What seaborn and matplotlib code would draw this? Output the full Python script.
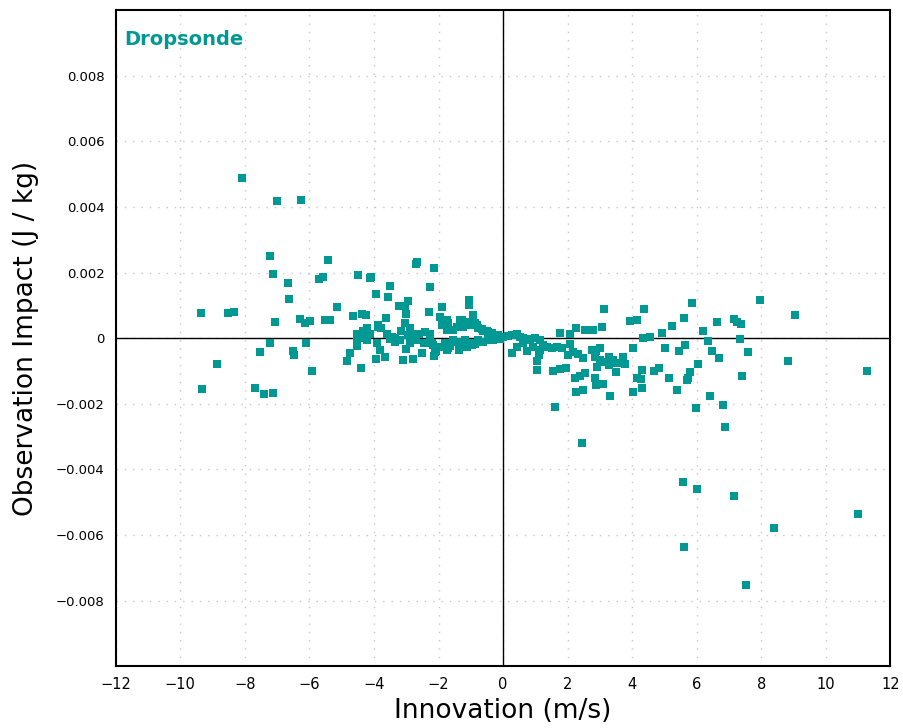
import matplotlib
matplotlib.use("Agg")
import matplotlib.pyplot as plt
from matplotlib.ticker import FuncFormatter
import seaborn as sns
import pandas as pd

# innovation (m/s) and observation impact (in 1e-3 J/kg)
innovation = [
    -8.10, -6.99, -6.26, -7.23, -7.13, -5.41, -6.66, -6.62, -5.71, -5.57,
    -4.48, -4.11, -4.08, -3.93, -3.50, -3.58, -2.70, -2.66, -2.15, -2.25,
    -3.23, -3.05, -2.94, -3.02, -2.29, -1.88, -1.95, -1.07, -1.07, -0.93,
    -9.36, -8.52, -8.35, -7.08, -6.28, -6.13, -5.98, -5.52, -5.35, -5.16,
    -4.66, -4.36, -4.25, -3.63, -3.87, -3.79,
    -7.22, -7.53, -8.85, -9.32, -7.69, -7.40, -7.13, -6.52, -6.48, -6.11,
    -5.91, -4.82, -4.74, -4.51, -4.40, -3.95, -3.65, -3.10, -2.79, -2.52,
    -3.02, -2.13, -2.09,
    -4.21, -4.54, -4.33, -4.12, -3.87, -3.61, -3.45, -3.35, -3.17, -3.04,
    -2.88, -2.78, -2.94, -2.59, -2.42, -2.26, -1.85, -1.70, -1.75, -1.54,
    -1.38, -1.28, -1.18, -1.02, -0.92, -0.82, -0.66, -0.51, -0.35, -0.20,
    -1.75, -1.90, -1.33, -1.44, -1.23, -0.87, -0.77, -0.61, -0.46, -0.15,
    -4.54, -4.37, -4.23, -3.92, -3.81, -3.50, -3.35, -3.19, -2.88, -2.70,
    -2.45, -2.26, -2.16, -2.08, -1.95, -1.80, -1.64, -1.75, -1.54, -1.44,
    -1.28, -1.18, -1.13, -1.02, -0.87, -0.77, -0.61, -0.46, -0.30, -0.15,
    -2.21, -2.11, -1.70, -1.13, -0.97, -1.38,
    -0.40, -0.30, -0.20, -0.09, 0.01, 0.16, 0.27, 0.42, 0.53, 0.63,
    0.73, 0.84, 0.99, 1.15, 0.27, 0.42, 0.63, 0.73, 0.94, 1.05,
    1.10, 1.15, 1.25, 1.36, 1.05, 1.56, 1.77, 1.95, 1.61, 1.51,
    1.66, 1.82, 1.77, 2.08, 2.26, 2.02, 2.18, 2.33, 2.47, 2.08,
    2.23, 2.39, 2.54, 2.26, 2.47, 2.54, 2.78, 3.06, 3.14, 2.75,
    2.88, 3.01, 2.85, 3.01, 2.92, 3.11, 3.27, 3.42, 3.27, 3.53,
    3.50, 3.73, 3.78, 4.02, 2.85, 2.88, 3.11, 3.32, 4.04, 3.92,
    4.15, 4.37, 4.15, 4.27, 4.30, 4.35, 4.56, 4.66, 4.82, 4.92,
    5.02, 5.13, 5.23, 5.62, 5.85, 6.19, 6.35, 6.47, 6.70, 6.64,
    7.14, 7.25, 7.37, 7.33, 7.58, 7.97, 9.03, 8.82, 11.28, 7.39,
    5.44, 5.64, 6.03, 5.78, 5.73, 5.39, 6.40, 5.97, 6.82, 6.89,
    2.46, 5.56, 6.01, 7.16, 11.01, 8.40, 5.59, 7.53, 4.30, 5.70,
]
impact = [
    4.89, 4.18, 4.21, 2.51, 1.95, 2.39, 1.68, 1.18, 1.81, 1.87,
    1.92, 1.82, 1.86, 1.36, 1.58, 1.25, 2.26, 2.32, 2.15, 1.55,
    0.98, 0.99, 1.14, 0.74, 0.81, 0.96, 0.65, 1.17, 1.00, 0.71,
    0.76, 0.77, 0.79, 0.50, 0.58, 0.47, 0.53, 0.55, 0.55, 0.95,
    0.68, 0.75, 0.71, 0.60, 0.34, 0.30,
    -0.16, -0.43, -0.79, -1.56, -1.51, -1.69, -1.67, -0.40, -0.52, -0.16,
    -1.01, -0.70, -0.45, -0.24, -0.92, -0.63, -0.57, -0.68, -0.65, -0.46,
    -0.33, -0.54, -0.40,
    0.30, 0.14, 0.22, 0.12, 0.40, 0.14, 0.04, -0.01, 0.22, 0.45,
    0.30, 0.14, 0.09, 0.14, 0.19, 0.14, 0.55, 0.45, 0.24, 0.24,
    0.34, 0.55, 0.50, 0.40, 0.55, 0.40, 0.27, 0.22, 0.16, 0.09,
    0.55, 0.40, 0.55, 0.34, 0.34, 0.45, 0.30, 0.21, 0.19, 0.09,
    -0.06, -0.01, -0.06, -0.16, -0.37, -0.04, -0.11, -0.06, -0.16, -0.06,
    -0.16, -0.06, -0.21, -0.37, -0.27, -0.16, -0.24, -0.37, -0.06, -0.11,
    -0.21, -0.06, -0.21, -0.16, -0.18, -0.06, -0.11, -0.06, -0.06, -0.04,
    -0.16, -0.42, -0.31, -0.27, -0.21, -0.37,
    0.14, 0.04, 0.09, -0.04, 0.04, 0.06, 0.09, 0.14, 0.04, -0.01,
    -0.06, -0.04, 0.01, -0.06, -0.44, -0.27, -0.16, -0.39, -0.27, -0.69,
    -0.52, -0.37, -0.21, -0.27, -0.98, -1.00, -0.95, -0.91, -2.11, -0.31,
    -0.27, -0.31, 0.16, 0.14, 0.31, -0.52, -0.42, -0.47, -0.59, -0.19,
    -1.20, -1.16, -1.06, -1.63, -1.59, 0.24, 0.24, 0.34, 0.88, -0.37,
    -0.39, -0.31, -0.57, -0.67, -0.87, -0.72, -0.57, -0.67, -0.82, -0.77,
    -1.03, -0.57, -0.79, -0.31, -1.23, -1.43, -1.40, -1.77, -1.64, 0.52,
    0.55, 0.88, -1.23, -1.26, -1.52, -0.01, 0.04, -1.00, -0.90, 0.16,
    -0.30, -1.20, 0.38, 0.60, 1.07, 0.21, -0.09, -0.40, -0.60, 0.48,
    0.58, 0.50, 0.43, -0.02, -0.43, 1.17, 0.72, -0.70, -1.00, -1.15,
    -0.40, -0.21, -0.79, -1.03, -1.20, -1.57, -1.75, -2.13, -2.03, -2.70,
    -3.21, -4.40, -4.60, -4.81, -5.37, -5.78, -6.36, -7.52, -0.96, -1.28,
]

x_ticks = list(range(-12, 13, 2))
y_ticks = [-0.008, -0.006, -0.004, -0.002, 0, 0.002, 0.004, 0.006, 0.008]
teal = "#009893"

df = pd.DataFrame({"innovation": innovation,
                   "impact": [v * 1e-3 for v in impact]})

sns.set_style("white")
plt.rcParams["font.family"] = ["DejaVu Sans"]
plt.rcParams["text.color"] = "black"
plt.rcParams["axes.labelcolor"] = "black"

fig = plt.figure(figsize=(9.04, 7.28), dpi=100)
ax = fig.add_axes([0.128, 0.085, 0.857, 0.901])

sns.scatterplot(data=df, x="innovation", y="impact", marker="s", s=40,
                color=teal, linewidth=0, ax=ax, zorder=3)

ax.set_xlim(-12, 12)
ax.set_ylim(-0.01, 0.01)
ax.set_xticks(x_ticks)
ax.set_yticks(y_ticks)
ax.xaxis.set_major_formatter(FuncFormatter(lambda v, p: f"{int(v)}".replace("-", "\u2212")))
ax.yaxis.set_major_formatter(FuncFormatter(
    lambda v, p: "0" if abs(v) < 1e-9 else f"{v:.3f}".replace("-", "\u2212")))
ax.tick_params(axis="both", direction="out", length=5, width=1, colors="black",
               labelcolor="black", pad=3)
ax.tick_params(axis="x", labelsize=10.5)
ax.tick_params(axis="y", labelsize=9.5)

ax.grid(True, color="#c8c8c8", linestyle=(0, (1, 5)), linewidth=1)
ax.axhline(0, color="black", linewidth=1, zorder=2)
ax.axvline(0, color="black", linewidth=1, zorder=2)
for sp in ax.spines.values():
    sp.set_color("black")
    sp.set_linewidth(1.5)

ax.set_xlabel("Innovation (m/s)", fontsize=19, labelpad=4, color="black")
ax.set_ylabel("Observation Impact (J / kg)", fontsize=19, labelpad=12, color="black")
ax.text(0.011, 0.97, "Dropsonde", transform=ax.transAxes, color=teal,
        fontsize=14, fontweight="bold", va="top", ha="left")

fig.savefig("out.png", dpi=100)
